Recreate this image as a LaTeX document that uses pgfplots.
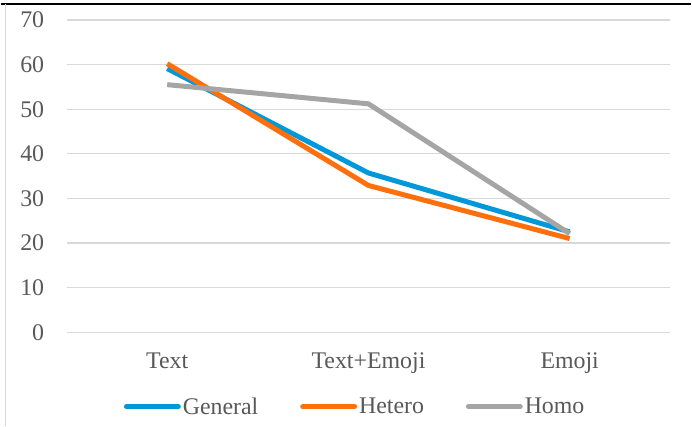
\documentclass[border=0pt]{standalone}
\usepackage{fontspec}
\setmainfont{Liberation Serif}
\usepackage{pgfplots}
\pgfplotsset{compat=1.18}
\definecolor{cGeneral}{RGB}{0,152,216}
\definecolor{cHetero}{RGB}{255,112,12}
\definecolor{cHomo}{RGB}{165,165,165}
\definecolor{cGrid}{RGB}{217,217,217}
\definecolor{cText}{RGB}{89,89,89}
\begin{document}
\begin{tikzpicture}
\begin{axis}[
  scale only axis,
  width=605bp, height=313bp,
  xmin=-0.5, xmax=2.5,
  ymin=0, ymax=70,
  ytick={0,10,...,70},
  xtick={0,1,2},
  xticklabels={Text,Text+Emoji,Emoji},
  axis line style={draw=none},
  major tick length=0pt,
  ymajorgrids,
  grid style={cGrid, line width=1.3bp},
  tick label style={font=\fontsize{24}{28}\selectfont, text=cText},
  /pgf/number format/assume math mode=true,
  yticklabel style={xshift=-19bp},
  xticklabel style={yshift=-17bp},
  legend style={
    at={(0.478,-0.238)}, anchor=center, draw=none,
    font=\fontsize{24}{28}\selectfont, text=cText,
    /tikz/every even column/.append style={column sep=40bp},
    inner sep=0pt,
  },
  legend columns=3,
  legend image code/.code={\draw[#1, line cap=round] (0bp,0bp) -- (52bp,0bp);},
  legend cell align=left,
  every axis plot/.append style={line width=5bp, line join=round},
  clip=false,
]
\addplot[cGeneral] coordinates {(0,59.1) (1,35.7) (2,22.5)};
\addlegendentry{General}
\addplot[cHetero] coordinates {(0,60.2) (1,32.9) (2,21.0)};
\addlegendentry{Hetero}
\addplot[cHomo] coordinates {(0,55.5) (1,51.2) (2,22.1)};
\addlegendentry{Homo}
\end{axis}
\pgfresetboundingbox
\path ([shift={(-66bp,-94bp)}]current axis.south west) rectangle ([shift={(21bp,20bp)}]current axis.north east);
\draw[black, line width=1.5bp] ([shift={(-66bp,16bp)}]current axis.north west) -- ([shift={(21bp,16bp)}]current axis.north east);
\draw[cGrid, line width=1.5bp] ([shift={(-61bp,16bp)}]current axis.north west) -- ([shift={(-61bp,-94bp)}]current axis.south west);
\end{tikzpicture}
\end{document}
